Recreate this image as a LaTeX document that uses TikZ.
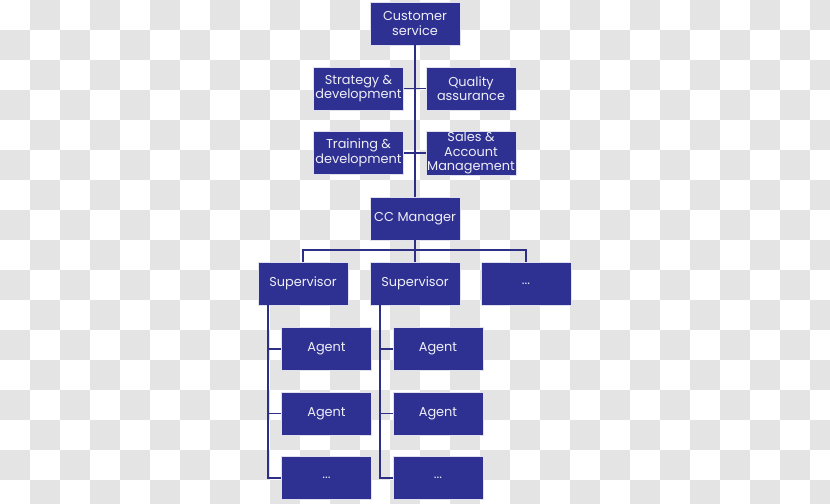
\documentclass[tikz,border=0pt]{standalone}
\usepackage{fontspec}
\setmainfont{Poppins}
\usetikzlibrary{positioning,calc}
\definecolor{boxblue}{HTML}{2E3192}
\definecolor{linkblue}{HTML}{2C2F85}
\definecolor{chk}{HTML}{E4E4E4}
\tikzset{
  unit/.style={draw=white!85!boxblue,line width=0.4pt,fill=boxblue,text=white!92!boxblue,
    minimum width=27mm,minimum height=13mm,inner sep=1pt,align=center,
    font=\fontsize{11}{12.4}\selectfont},
  link/.style={draw=linkblue,line width=1.6pt},
}

\begin{document}
\begin{tikzpicture}[x=0.3mm,y=-0.3mm]
  \useasboundingbox (0,0) rectangle (830,503);
  \clip (0,0) rectangle (830,503);
  % transparent background squares
  \foreach \i in {0,...,27}
    \foreach \j in {0,...,16}{
      \pgfmathtruncatemacro{\odd}{mod(\i+\j,2)}
      \ifnum\odd=1 \fill[chk] (30*\i,30*\j) rectangle ++(30,30); \fi
    }
  % top block
  \node[unit] (cs)  at (415,23.5) {Customer\\service};
  \node[unit] (sd)  at (358.5,88.5) {Strategy \&\\development};
  \node[unit] (qa)  at (471,88.5) {Quality\\assurance};
  \node[unit] (td)  at (358.5,153) {Training \&\\development};
  \node[unit] (sam) at (471,153) {Sales \&\\Account\\Management};
  \node[unit] (ccm) at (415,218.5) {CC Manager};
  % supervisors
  \node[unit] (sup1) at (303,283.5) {Supervisor};
  \node[unit] (sup2) at (415,283.5) {Supervisor};
  \node[unit] (sup3) at (526,283.5) {...};
  % agents
  \node[unit] (a11) at (326.5,349) {Agent};
  \node[unit] (a12) at (326.5,413.5) {Agent};
  \node[unit] (a13) at (326.5,478) {...};
  \node[unit] (a21) at (438,349) {Agent};
  \node[unit] (a22) at (438,413.5) {Agent};
  \node[unit] (a23) at (438,478) {...};
  % connectors
  \draw[link] (cs.south) -- (ccm.north);
  \draw[link] (sd.east) -- (qa.west);
  \draw[link] (td.east) -- (sam.west);
  \coordinate (bar) at ($(ccm.south)+(0,10)$);
  \draw[link] (ccm.south) -- (sup2.north);
  \draw[link] (sup1.north) |- (bar) -| (sup3.north);
  \foreach \s/\a in {sup1/a1,sup2/a2}{
    \draw[link] ([xshift=9]\s.south west) |- (\a3.west);
    \draw[link] ([xshift=9]\s.south west) |- (\a1.west);
    \draw[link] ([xshift=9]\s.south west) |- (\a2.west);
  }
\end{tikzpicture}
\end{document}
